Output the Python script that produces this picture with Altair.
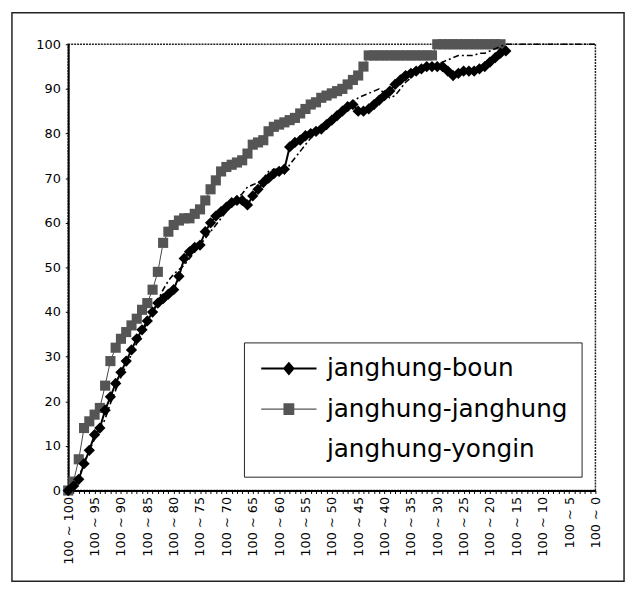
import json
import altair as alt
import pandas as pd

# ---------------- data ----------------
categories = [f"100 ~ {100 - i}" for i in range(101)]
x_labels = [f"100 ~ {n}" for n in range(100, -1, -5)]
y_ticks = list(range(0, 101, 10))
series_names = ["janghung-boun", "janghung-janghung", "janghung-yongin"]

janghung = [0, 2, 7, 14, 15.5, 17, 18.5, 23.5, 29, 32,
            34, 35.5, 37, 38.5, 40.5, 42, 45, 49, 55.5, 58,
            59.5, 60.5, 61, 61, 62, 63, 65, 67.5, 69.5, 71.5,
            72.5, 73, 73.5, 74, 75.5, 77.5, 78, 78.5, 80.5, 81.5,
            82, 82.5, 83, 83.5, 84.5, 85.5, 86.5, 87, 88, 88.5,
            89, 89.5, 90, 91, 92, 93, 95,
            97.5, 97.5, 97.5, 97.5, 97.5, 97.5, 97.5, 97.5, 97.5, 97.5, 97.5, 97.5, 97.5,
            100, 100, 100, 100, 100, 100, 100, 100, 100, 100, 100, 100, 100] + [None] * 18

boun = [0, 1, 2.5, 6, 9, 12.5, 14, 18, 21, 24,
        26.5, 29, 31.5, 34, 36, 38, 40, 42, 43, 44,
        45, 48, 52, 53.5, 54.5, 55, 58, 60, 61.5, 62.5,
        63.5, 64.5, 65, 65, 64, 66, 67.5, 69, 70, 71,
        71.5, 72, 77, 78, 78.5, 79.5, 80, 80.5, 81, 82,
        83, 84, 85, 86, 86.5, 85, 85, 85.5, 86.5, 87.5,
        88.5, 89.5, 91, 92, 93, 93.5, 94, 94.5, 95, 95,
        95, 95, 94, 93, 93.5, 94, 94, 94, 94.5, 95,
        96, 97, 98, 98.5] + [None] * 17

yongin = [0, 1, 3, 6, 9, 11.5, 13.5, 16, 19.5, 22.5,
          25.5, 28, 30.5, 33, 35.5, 37.5, 40, 42.5, 45, 47,
          48.5, 49.5, 50.5, 52, 53.5, 55, 56.5, 58, 59.5, 61,
          62.5, 64, 65.5, 66.5, 68, 68.5, 69, 70, 71.5, 72,
          72, 71, 73, 74.5, 76, 77.5, 79, 80, 81.5, 82.5,
          83.5, 84.5, 85.5, 86.5, 87, 88, 88.5, 89, 89.5, 90,
          89, 88, 88.5, 90, 91.5, 92.5, 93.5, 94, 94.5, 95,
          95.5, 96, 96.5, 97, 97.5, 97.5, 97.5, 97.5, 98, 98,
          98.5, 99, 99.5] + [100] * 18

FONT = "DejaVu Sans"


def frame(values):
    return pd.DataFrame({"cat": categories, "v": values}).dropna()


label_expr = f"indexof({json.dumps(x_labels)}, datum.value) >= 0 ? datum.value : ''"

x_enc = alt.X(
    "cat:O",
    scale=alt.Scale(type="point", domain=categories, padding=0),
    axis=alt.Axis(
        title=None, labelExpr=label_expr, labelAngle=270, labelAlign="right",
        labelBaseline="middle", labelFontSize=13, labelFont=FONT, labelColor="black",
        labelOverlap=False, tickSize=3, tickColor="black", labelPadding=3,
        domainColor="black", domainWidth=2, grid=False,
    ),
)
y_enc = alt.Y(
    "v:Q",
    scale=alt.Scale(domain=[0, 100], nice=False),
    axis=alt.Axis(
        title=None, values=y_ticks, labelFontSize=13, labelFont=FONT, labelColor="black",
        tickSize=3, tickColor="black", labelPadding=5, domainColor="black",
        domainWidth=2, grid=False,
    ),
)

# outer chart-area frame (decoration)
frame_layer = alt.Chart(pd.DataFrame({"a": [0]})).mark_rect(
    fillOpacity=0, stroke="#222222", strokeWidth=1.5
).encode(x=alt.value(-57), x2=alt.value(563), y=alt.value(-32), y2=alt.value(544))

jj = frame(janghung)
jj_line = alt.Chart(jj).mark_line(color="#444444", strokeWidth=1).encode(x=x_enc, y=y_enc)
jj_pts = alt.Chart(jj).mark_point(shape="square", filled=True, size=105, color="#555555", opacity=1).encode(x=x_enc, y=y_enc)

bb = frame(boun)
bb_line = alt.Chart(bb).mark_line(color="black", strokeWidth=2).encode(x=x_enc, y=y_enc)
bb_pts = alt.Chart(bb).mark_point(shape="diamond", filled=True, size=130, color="black", opacity=1).encode(x=x_enc, y=y_enc)

yy = frame(yongin)
yy_line = alt.Chart(yy).mark_line(color="black", strokeWidth=1.6, strokeDash=[6, 3, 2, 3]).encode(x=x_enc, y=y_enc)

legend_paths = [
    "M-2.8,-0.1L-0.514,-0.1L0,-0.7L0.514,-0.1L2.8,-0.1L2.8,0.1L0.514,0.1L0,0.7L-0.514,0.1L-2.8,0.1Z",
    "M-2.8,-0.06L-0.55,-0.06L-0.55,-0.6L0.55,-0.6L0.55,-0.06L2.8,-0.06L2.8,0.06L0.55,0.06L0.55,0.6L-0.55,0.6L-0.55,0.06L-2.8,0.06Z",
    "M-0.1,-0.1L0.1,-0.1L0.1,0.1L-0.1,0.1Z",
]

legend = alt.Legend(
    title=None, orient="none", legendX=178, legendY=302, direction="vertical",
    symbolSize=400, symbolOpacity=1, symbolStrokeWidth=0, symbolOffset=19,
    labelFont=FONT, labelFontSize=25, labelColor="black", labelOffset=26, labelLimit=500,
    padding=14, rowPadding=15, strokeColor="#222222", fillColor="white", cornerRadius=0,
)

legend_layer = alt.Chart(pd.DataFrame({"series": series_names})).mark_point(
    filled=True, opacity=0
).encode(
    x=alt.value(0),
    y=alt.value(0),
    color=alt.Color("series:N", scale=alt.Scale(domain=series_names, range=["black", "#555555", "white"]), legend=legend),
    shape=alt.Shape("series:N", scale=alt.Scale(domain=series_names, range=legend_paths), legend=legend),
)

chart = alt.layer(
    frame_layer, jj_line, jj_pts, bb_line, bb_pts, yy_line, legend_layer
).properties(
    width=534,
    height=452,
    autosize=alt.AutoSizeParams(type="none"),
    padding={"left": 61, "top": 33, "right": 33, "bottom": 94},
    background="white",
).configure_view(
    stroke="#222222", strokeWidth=1.5, strokeDash=[2, 1]
)

chart.save("out.html", embed_options={"renderer": "svg", "actions": False})
